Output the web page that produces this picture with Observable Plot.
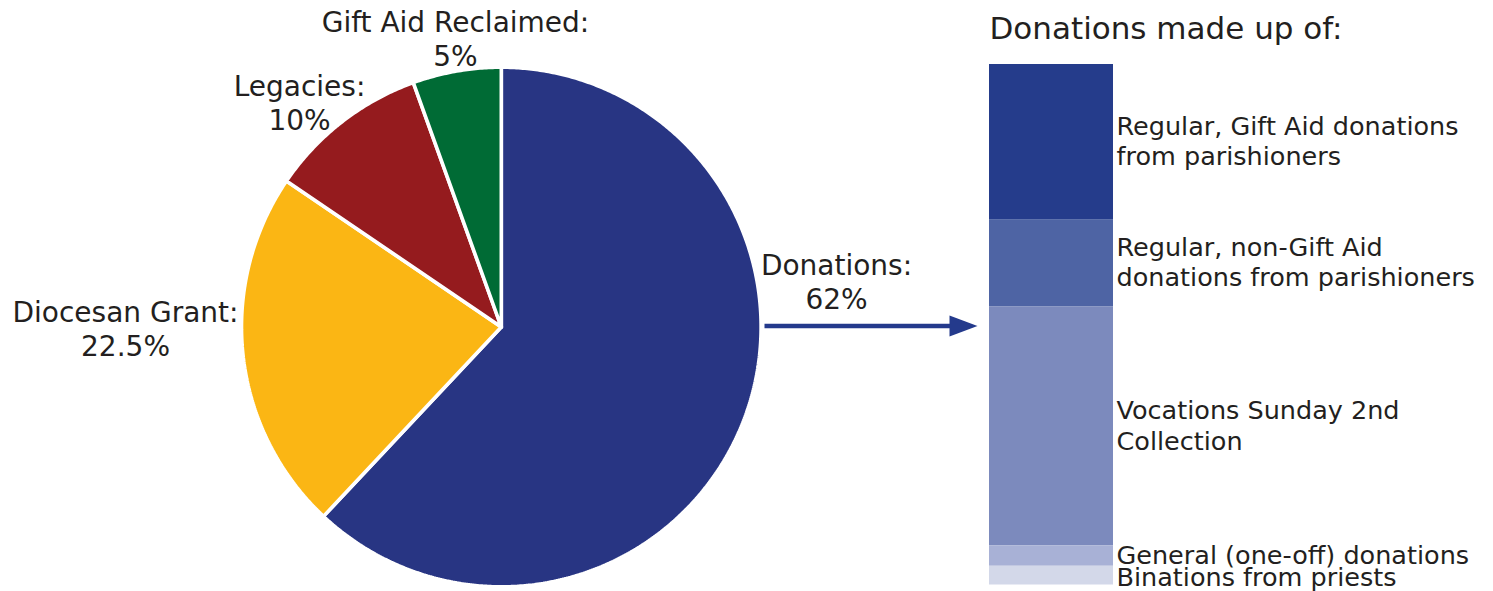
<!DOCTYPE html>
<html>
<head>
<meta charset="utf-8">
<script src="https://cdn.jsdelivr.net/npm/d3@7"></script>
<script src="https://cdn.jsdelivr.net/npm/@observablehq/plot@0.6"></script>
<style>
  html, body { margin: 0; padding: 0; background: #fff; }
  #chart { position: relative; width: 1493px; height: 591px; overflow: hidden; }
  #chart svg { position: absolute; left: 0; top: 0; }
</style>
</head>
<body>
<div id="chart"></div>
<script>
// ---------- data ----------
const pieCategories = ["Donations", "Diocesan Grant", "Legacies", "Gift Aid Reclaimed"];
const pieValues = [62, 22.5, 10, 5.5];
const pieLabels = ["Donations:\n62%", "Diocesan Grant:\n22.5%", "Legacies:\n10%", "Gift Aid Reclaimed:\n5%"];
const pieColors = ["#283583", "#FBB614", "#951B1E", "#006B35"];

const barTitle = "Donations made up of:";
const barCategories = ["Regular Gift Aid", "Regular non-Gift Aid", "Vocations Sunday", "General", "Binations"];
const barValues = [29.8, 16.8, 45.9, 3.9, 3.6];
const barLabels = [
  "Regular, Gift Aid donations\nfrom parishioners",
  "Regular, non-Gift Aid\ndonations from parishioners",
  "Vocations Sunday 2nd\nCollection",
  "General (one-off) donations",
  "Binations from priests"
];
const barColors = ["#253C8B", "#4E64A4", "#7C8ABD", "#A8B1D6", "#D3D8E9"];

// ---------- layout ----------
const W = 1493, H = 591;
const FONT = "DejaVu Sans";
const TEXT = "#231F20";
const pie = {cx: 500.8, cy: 326.5, r: 259.8};
// label anchors (pixel: centre x, baseline of last line)
const pieLabelPos = [[836, 308], [125, 355], [299, 129], [455, 65]];
const arrowPos = {x1: 764, x2: 950, tip: 977, y: 325.6, half: 10.5};
const bar = {x0: 989, x1: 1113, y0: 64, y1: 584.5};

const ux = px => (px - pie.cx) / pie.r;
const uy = py => (pie.cy - py) / pie.r;

// ---------- pie ----------
const arcs = d3.pie().sort(null).value(d => d)(pieValues);
const pieRows = [];
arcs.forEach((a, i) => {
  const cat = pieCategories[i];
  pieRows.push({cat, x: 0, y: 0});
  const n = Math.max(8, Math.ceil((a.endAngle - a.startAngle) * 120));
  for (let k = 0; k <= n; ++k) {
    const t = a.startAngle + (a.endAngle - a.startAngle) * k / n;
    pieRows.push({cat, x: Math.sin(t), y: Math.cos(t)});
  }
  pieRows.push({cat, x: 0, y: 0});
});
const labelRows = pieCategories.map((c, i) => ({
  label: pieLabels[i], x: ux(pieLabelPos[i][0]), y: uy(pieLabelPos[i][1])
}));
const arrowHead = [
  {x: ux(arrowPos.x2 - 1), y: uy(arrowPos.y - arrowPos.half)},
  {x: ux(arrowPos.tip), y: uy(arrowPos.y)},
  {x: ux(arrowPos.x2 - 1), y: uy(arrowPos.y + arrowPos.half)}
];

const piePlot = Plot.plot({
  width: W, height: H,
  marginTop: 0, marginRight: 0, marginBottom: 0, marginLeft: 0,
  style: {background: "#fff", fontFamily: FONT},
  x: {domain: [-1, 1], range: [pie.cx - pie.r, pie.cx + pie.r], axis: null},
  y: {domain: [-1, 1], range: [pie.cy + pie.r, pie.cy - pie.r], axis: null},
  color: {domain: pieCategories, range: pieColors},
  marks: [
    Plot.line(pieRows, {x: "x", y: "y", z: "cat", fill: "cat", stroke: "#fff", strokeWidth: 3.6, strokeLinejoin: "miter", curve: "linear"}),
    Plot.text(labelRows, {x: "x", y: "y", text: "label", textAnchor: "middle", lineAnchor: "bottom",
      lineHeight: 1.18, fontSize: 28, fill: TEXT, fontFamily: FONT}),
    Plot.link([0], {x1: () => ux(arrowPos.x1), x2: () => ux(arrowPos.x2), y1: () => uy(arrowPos.y), y2: () => uy(arrowPos.y),
      stroke: "#243A8C", strokeWidth: 4.5, strokeLinecap: "butt"}),
    Plot.line(arrowHead, {x: "x", y: "y", fill: "#243A8C", stroke: "none"})
  ]
});

// ---------- stacked bar ----------
const total = d3.sum(barValues);
let acc = 0;
const barRows = barCategories.map((c, i) => {
  const y1 = acc; acc += barValues[i];
  return {name: c, label: barLabels[i], y1, y2: acc, mid: (y1 + acc) / 2, last: i === barCategories.length - 1};
});

const labelOpts = {x: () => 1, y: "mid", text: "label", textAnchor: "start", lineAnchor: "middle",
  dx: 3, lineHeight: 1.2, fontSize: 25.5, fill: TEXT, fontFamily: FONT};

const barPlot = Plot.plot({
  width: W, height: H,
  marginTop: 0, marginRight: 0, marginBottom: 0, marginLeft: 0,
  style: {background: "transparent", fontFamily: FONT},
  x: {domain: [0, 1], range: [bar.x0, bar.x1], axis: null},
  y: {domain: [0, total], range: [bar.y0, bar.y1], axis: null},
  color: {domain: barCategories, range: barColors},
  marks: [
    Plot.rect(barRows, {x1: () => 0, x2: () => 1, y1: "y1", y2: "y2", fill: "name"}),
    Plot.text(barRows, {...labelOpts, filter: d => !d.last, dy: -2}),
    Plot.text(barRows, {...labelOpts, filter: d => d.last, dy: 1}),
    Plot.text([barTitle], {x: () => 0, y: () => 0, text: d => d, textAnchor: "start", lineAnchor: "bottom",
      dy: -26, fontSize: 31, fill: TEXT, fontFamily: FONT})
  ]
});

const chart = document.getElementById("chart");
chart.appendChild(piePlot);
chart.appendChild(barPlot);
</script>
</body>
</html>
